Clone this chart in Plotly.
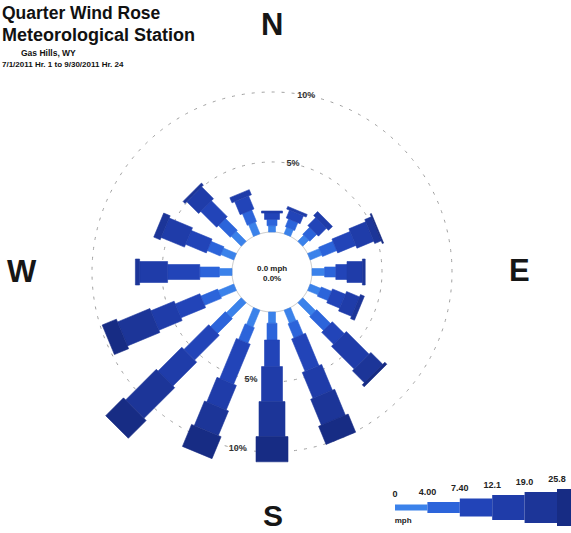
import math
import plotly.graph_objects as go

# ---------------- data ----------------
directions = ["N", "NNE", "NE", "ENE", "E", "ESE", "SE", "SSE",
              "S", "SSW", "SW", "WSW", "W", "WNW", "NW", "NNW"]
dir_degrees = [0, 22.5, 45, 67.5, 90, 112.5, 135, 157.5,
               180, 202.5, 225, 247.5, 270, 292.5, 315, 337.5]
speed_bins = ["0-4.00", "4.00-7.40", "7.40-12.1", "12.1-19.0", "19.0-25.8", ">25.8"]
speed_edge_labels = ["0", "4.00", "7.40", "12.1", "19.0", "25.8"]

# frequency (%) per direction for each speed class
freq_0_4    = [0.45, 0.5, 0.6, 0.9, 0.9, 0.8, 1.3, 1.0, 0.8, 1.3, 1.5, 1.2, 0.9, 1.0, 1.0, 0.9]
freq_4_7    = [0.45, 0.6, 0.7, 1.1, 0.8, 0.8, 1.4, 1.1, 1.2, 1.2, 1.5, 1.3, 1.4, 1.0, 1.2, 0.9]
freq_7_12   = [0.45, 0.6, 0.8, 1.4, 0.8, 1.0, 1.2, 2.5, 1.9, 3.1, 2.5, 1.9, 2.3, 1.6, 1.6, 1.0]
freq_12_19  = [0.15, 0.2, 0.4, 1.3, 1.1, 1.0, 2.3, 2.0, 2.5, 1.9, 2.4, 1.8, 2.0, 1.8, 1.2, 0.4]
freq_19_26  = [0.0, 0.0, 0.0, 0.5, 0.2, 0.3, 1.2, 2.0, 2.5, 1.9, 3.1, 2.5, 0.3, 0.5, 0.2, 0.0]
freq_26_up  = [0.0, 0.0, 0.0, 0.1, 0.0, 0.0, 0.2, 1.4, 1.8, 1.7, 1.8, 1.1, 0.0, 0.0, 0.0, 0.0]
series = [freq_0_4, freq_4_7, freq_7_12, freq_12_19, freq_19_26, freq_26_up]

ring_values = [5, 10]
ring_labels = ["5%", "10%"]
calm_text = "0.0 mph<br>0.0%"

# ---------------- styles ----------------
W, H = 571, 533
colors = ["#3b82ea", "#2c64da", "#2244b8", "#1f3ca9", "#1c3598", "#172c84"]
PX_PER_UNIT = 14.0          # pixels per 1 %
HOLE_PX = 40.0
R0 = -HOLE_PX / PX_PER_UNIT  # radial value at the centre
RMAX = 14.0
seg_px = [7, 10, 15, 21, 26, 32]          # bar thickness per class (px)
legend_px = [6, 11, 18, 25, 31, 37]
FONT = "Liberation Sans, Arial, sans-serif"

fig = go.Figure()

# hole edge
fig.add_trace(go.Scatterpolar(
    r=[0] * 361, theta=list(range(361)), mode="lines",
    line=dict(color="#b8b8b8", width=0.8), hoverinfo="skip", showlegend=False))


def rect(theta, c0, c1, hw):
    a0, a1 = c0 - R0, c1 - R0
    pts = [(a0, -hw), (a1, -hw), (a1, hw), (a0, hw), (a0, -hw)]
    rr = [R0 + math.hypot(a, p) for a, p in pts]
    tt = [theta + math.degrees(math.atan2(p, a)) for a, p in pts]
    return rr, tt


for d, ang in enumerate(dir_degrees):
    cum = 0.0
    for k, s in enumerate(series):
        v = s[d]
        if v <= 0:
            continue
        hw = seg_px[k] / 2.0 / PX_PER_UNIT
        rr, tt = rect(ang, cum, cum + v, hw)
        cum += v
        fig.add_trace(go.Scatterpolar(
            r=rr, theta=tt, mode="lines", fill="toself",
            fillcolor=colors[k], line=dict(color=colors[k], width=0.6),
            name=f"{directions[d]} {speed_bins[k]}", hoverinfo="name",
            showlegend=False))

# ring labels
fig.add_trace(go.Scatterpolar(
    r=ring_values + ring_values, theta=[11, 11, 191, 191],
    text=ring_labels + ring_labels, mode="text",
    textfont=dict(family=FONT, size=9, color="#333333", weight="bold"),
    hoverinfo="skip", showlegend=False))

# ---------------- legend bar (cartesian) ----------------
for k in range(len(speed_bins)):
    fig.add_trace(go.Bar(
        orientation="h", x=[1], base=[k], y=[25.5], width=[legend_px[k]],
        marker=dict(color=colors[k], line=dict(width=0)),
        xaxis="x", yaxis="y", showlegend=False, hoverinfo="skip"))
fig.add_trace(go.Scatter(
    x=list(range(len(speed_edge_labels))),
    y=[25.5 + legend_px[k] / 2 + 9.5 for k in range(len(speed_edge_labels))],
    text=speed_edge_labels, mode="text", cliponaxis=False,
    textfont=dict(family=FONT, size=9, color="#222222", weight="bold"),
    xaxis="x", yaxis="y", showlegend=False, hoverinfo="skip"))
fig.add_trace(go.Scatter(
    x=[0.25], y=[12], text=["mph"], mode="text", cliponaxis=False,
    textfont=dict(family=FONT, size=8, color="#222222", weight="bold"),
    xaxis="x", yaxis="y", showlegend=False, hoverinfo="skip"))

cx, cy = 272, 272
R = (RMAX - R0) * PX_PER_UNIT

fig.update_layout(
    width=W, height=H, margin=dict(l=0, r=0, t=0, b=0),
    paper_bgcolor="white", plot_bgcolor="rgba(0,0,0,0)",
    barmode="overlay", showlegend=False,
    polar=dict(
        domain=dict(x=[(cx - R) / W, (cx + R) / W],
                    y=[(H - cy - R) / H, (H - cy + R) / H]),
        bgcolor="rgba(0,0,0,0)",
        radialaxis=dict(range=[R0, RMAX], tickvals=ring_values, showticklabels=False,
                        ticks="", showline=False, showgrid=True,
                        gridcolor="#a0a0a0", griddash="3px,7px", gridwidth=1),
        angularaxis=dict(rotation=90, direction="clockwise", showgrid=False,
                         showticklabels=False, ticks="", showline=False),
    ),
    xaxis=dict(domain=[395 / W, 1.0], range=[0, (W - 395) / 32.4], visible=False,
               fixedrange=True),
    yaxis=dict(domain=[0, 60 / H], range=[0, 60], visible=False, fixedrange=True),
)


def px(x, y):
    return x / W, 1 - y / H


annotations = []
for txt, x, y, fs in [("N", 272, 25, 31), ("S", 273, 515, 30), ("W", 22, 271, 31),
                      ("E", 519, 270, 31)]:
    ax, ay = px(x, y)
    annotations.append(dict(text=f"<b>{txt}</b>", x=ax, y=ay, xref="paper", yref="paper",
                            showarrow=False, xanchor="center", yanchor="middle",
                            borderpad=0, font=dict(family=FONT, size=fs, color="#161616")))
ax, ay = px(cx, cy + 1)
annotations.append(dict(text=f"<b>{calm_text}</b>", x=ax, y=ay, xref="paper", yref="paper",
                        showarrow=False, font=dict(family=FONT, size=8, color="#222222")))

title_lines = [
    ("Quarter Wind Rose", 1, 13, 17.5),
    ("Meteorological Station", 1, 35, 18),
    ("7/1/2011 Hr. 1 to 9/30/2011 Hr. 24", 1, 64, 8),
]
for txt, x, y, fs in title_lines:
    ax, ay = px(x, y)
    annotations.append(dict(text=f"<b>{txt}</b>", x=ax, y=ay, xref="paper", yref="paper",
                            showarrow=False, xanchor="left", yanchor="middle", borderpad=0,
                            font=dict(family=FONT, size=fs, color="#111111")))
ax, ay = px(48, 53)
annotations.append(dict(text="<b>Gas Hills, WY</b>", x=ax, y=ay, xref="paper", yref="paper",
                        showarrow=False, xanchor="center", yanchor="middle", borderpad=0,
                        font=dict(family=FONT, size=8.5, color="#111111")))
fig.update_layout(annotations=annotations)

fig.write_html("out.html")
